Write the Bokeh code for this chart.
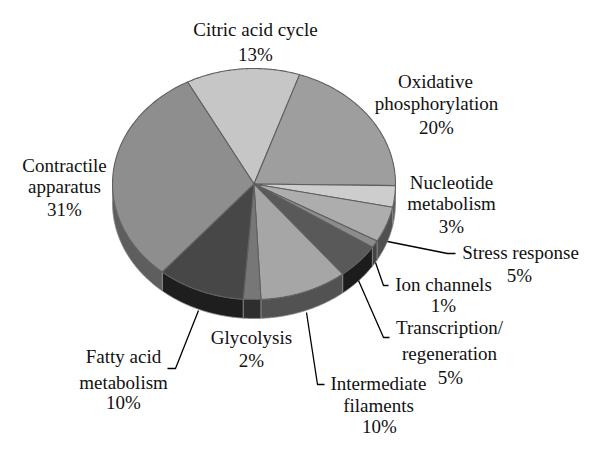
import numpy as np
from bokeh.plotting import figure
from bokeh.embed import file_html
from bokeh.resources import INLINE
from bokeh.core.properties import value

categories = ["Citric acid cycle", "Oxidative phosphorylation", "Nucleotide metabolism",
              "Stress response", "Ion channels", "Transcription/regeneration",
              "Intermediate filaments", "Glycolysis", "Fatty acid metabolism",
              "Contractile apparatus"]
shares = [13, 20, 3, 5, 1, 5, 10, 2, 10, 31]
top_colors = ["#c6c6c6", "#9e9e9e", "#cdcdcd", "#adadad", "#8c8c8c",
              "#595959", "#a6a6a6", "#777777", "#474747", "#8e8e8e"]
side_colors = ["#777777", "#555555", "#5c5c5c", "#505050", "#444444",
               "#1c1c1c", "#525252", "#2e2e2e", "#1e1e1e", "#5e5e5e"]

# Chart geometry, in picture pixels
CX, CY, RX, RY, DEPTH, START = 253.5, 183.5, 141.5, 115.5, 19.0, -28.0
FONT = "Liberation Serif"
SIZE = "19px"

p = figure(width=584, height=438, x_range=(0, 584), y_range=(438, 0),
           output_backend="svg", toolbar_location=None, min_border=0,
           outline_line_color=None, background_fill_color="white")
p.xaxis.visible = False
p.yaxis.visible = False
p.grid.visible = False

def ell(a):
    a = np.radians(a)
    return CX + RX * np.sin(a), CY - RY * np.cos(a)

edges = START + np.concatenate([[0], np.cumsum(shares)]) * 3.6

# side wall (front half only, 90..270 deg from the top)
for i in range(len(shares)):
    a0, a1 = max(edges[i], 90), min(edges[i + 1], 270)
    if a1 <= a0:
        continue
    t = np.linspace(a0, a1, 60)
    x, y = ell(t)
    xs = np.concatenate([x, x[::-1]])
    ys = np.concatenate([y, y[::-1] + DEPTH])
    p.patch(xs, ys, fill_color=side_colors[i], line_color="#8a8a8a", line_width=0.8)

# top faces
for i in range(len(shares)):
    t = np.linspace(edges[i], edges[i + 1], 80)
    x, y = ell(t)
    p.patch(np.concatenate([[CX], x]), np.concatenate([[CY], y]),
            fill_color=top_colors[i], line_color="#5f5f5f", line_width=1.1)

# leader lines
leaders = [
    ([198, 175, 167], [310, 368, 368]),
    ([387, 447, 455], [241, 253, 253]),
    ([375, 383, 388], [262, 285, 285]),
    ([358, 383, 389], [280, 337, 337]),
    ([306, 317, 324], [312, 384, 384]),
]
for lx, ly in leaders:
    p.line(lx, ly, line_color="black", line_width=1.3)

texts = [
    ("Citric acid cycle", 255, 29), ("13%", 255, 54),
    ("Oxidative", 435, 81), ("phosphorylation", 436, 103), ("20%", 436, 127),
    ("Nucleotide", 451, 182), ("metabolism", 451, 203), ("3%", 451, 226),
    ("Stress response", 520, 252), ("5%", 519, 275),
    ("Ion channels", 443, 284), ("1%", 443, 305),
    ("Transcription/", 449, 327), ("regeneration", 449, 353), ("5%", 450, 377),
    ("Intermediate", 378, 383), ("filaments", 378, 405), ("10%", 379, 426),
    ("Glycolysis", 251, 337), ("2%", 251, 360),
    ("Fatty acid", 123, 356), ("metabolism", 123, 382), ("10%", 123, 402),
    ("Contractile", 64, 165), ("apparatus", 64, 186), ("31%", 64, 209),
]
p.text([t[1] for t in texts], [t[2] for t in texts], text=[t[0] for t in texts],
       text_font=value(FONT), text_font_size=value(SIZE), text_color="#111111",
       text_align="center", text_baseline="middle")

open("out.html", "w").write(file_html(p, INLINE))
